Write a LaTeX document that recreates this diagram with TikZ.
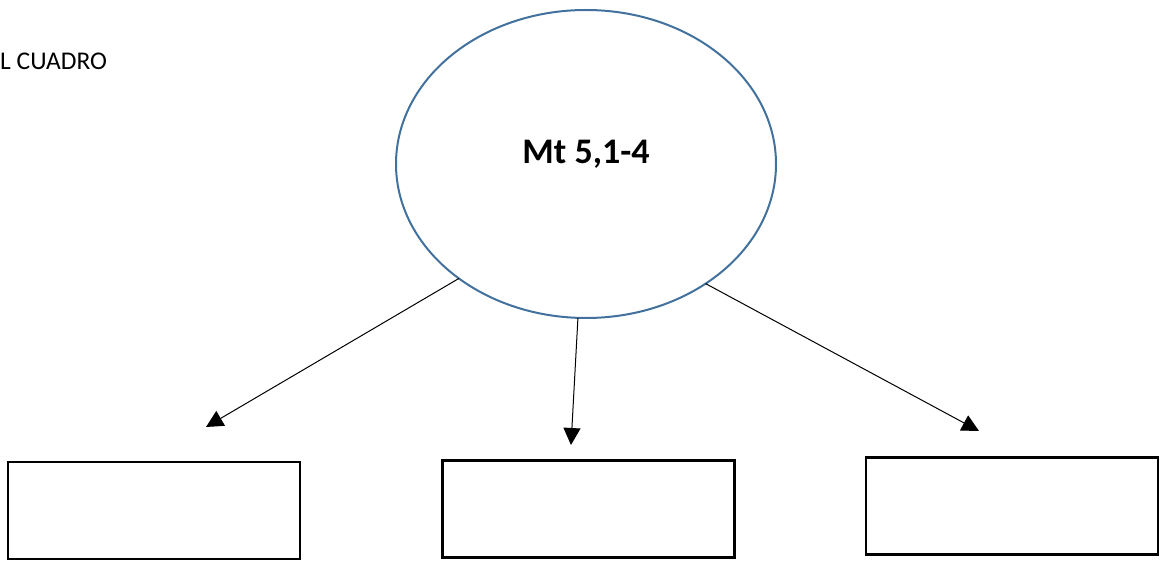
\documentclass[tikz,border=0pt]{standalone}
\usepackage{fontspec}
\setmainfont{Carlito}
\usetikzlibrary{arrows.meta,shapes.geometric}
\definecolor{ellblue}{HTML}{41719C}
\tikzset{
  emptybox/.style={draw=black, line width=2.2pt, minimum width=292pt, minimum height=97pt, inner sep=0pt, outer sep=0pt},
  bubble/.style={ellipse, draw=ellblue, line width=2pt, minimum width=380pt, minimum height=308pt, inner sep=0pt, outer sep=0pt},
  link/.style={draw=black, line width=1pt, -{Triangle[length=17pt,width=17pt]}}
}
\begin{document}
\begin{tikzpicture}[x=1pt,y=-1pt]
\useasboundingbox (0,0) rectangle (1163,561);
\node[bubble] (e) at (586,164) {};
\node[anchor=base, inner sep=0pt, font=\bfseries\fontsize{36}{40}\selectfont] (t) at (586,164) {Mt 5,1-4};
\node[anchor=base west, inner sep=0pt, font=\fontsize{25.5}{28}\selectfont] (l) at (0,70) {L CUADRO};
\node[emptybox] (b1) at (154,510.5) {};
\node[emptybox] (b2) at (588.5,509) {};
\node[emptybox] (b3) at (1012,506) {};
\coordinate (a1) at (206,427);
\coordinate (a2) at (571,445);
\coordinate (a3) at (979,431);
\draw[link] (e.222) -- (a1);
\draw[link] (e.267) -- (a2);
\draw[link] (e.315.7) -- (a3);
\end{tikzpicture}
\end{document}
